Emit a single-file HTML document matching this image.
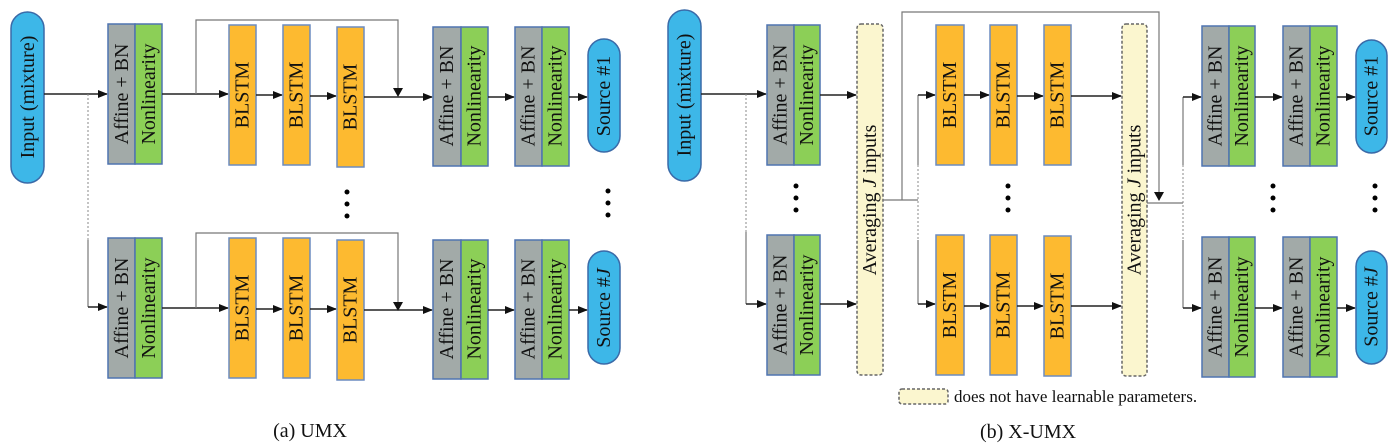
<!DOCTYPE html>
<html><head><meta charset="utf-8"><style>
html,body{margin:0;padding:0;background:#fff;}
svg{display:block;font-family:'Liberation Serif','DejaVu Serif',serif;}
svg text{font-family:'Liberation Serif','DejaVu Serif',serif;fill:#111;}
.g{fill:#a2aaa8;stroke:#4f74b0;stroke-width:1.5;}
.n{fill:#8ccf57;stroke:#4f74b0;stroke-width:1.5;}
.b{fill:#fdba30;stroke:#6c8cc0;stroke-width:1.5;}
.e{fill:#3db7e8;stroke:#3a6aa8;stroke-width:1.5;}
.a{fill:#fbf6cf;stroke:#666;stroke-width:1.5;stroke-dasharray:3,2;}
.l{stroke:#222;stroke-width:1.4;fill:none;}
.t{stroke:#777;stroke-width:1.2;fill:none;}
.d{stroke:#888;stroke-width:1;fill:none;stroke-dasharray:2,2;}
.lab{font-size:20px;}
</style></head><body>
<svg width="1399" height="444" viewBox="0 0 1399 444" xmlns="http://www.w3.org/2000/svg" font-family="Liberation Serif, DejaVu Serif, serif">
<defs><marker id="ar" markerWidth="10" markerHeight="8" refX="9" refY="4" orient="auto" markerUnits="userSpaceOnUse"><path d="M0,0 L10,4 L0,8 z" fill="#111"/></marker></defs>

<!-- ===== UMX ===== -->
<rect class="e" x="11" y="12" width="33" height="171" rx="16.5"/>
<text class="lab" transform="rotate(-90 28 97)" x="28" y="97" text-anchor="middle" dominant-baseline="central">Input (mixture)</text>
<line class="l" x1="44" y1="94" x2="107" y2="94" marker-end="url(#ar)"/>
<line class="d" x1="88" y1="94" x2="88" y2="240"/>
<polyline class="t" points="88,240 88,307"/>
<line class="l" x1="88" y1="307" x2="107" y2="307" marker-end="url(#ar)"/>

<rect class="g" x="108" y="24" width="27" height="140"/><rect class="n" x="135" y="24" width="27" height="140"/>
<text class="lab" transform="rotate(-90 122 94)" x="122" y="94" text-anchor="middle" dominant-baseline="central">Affine + BN</text>
<text class="lab" transform="rotate(-90 149 94)" x="149" y="94" text-anchor="middle" dominant-baseline="central">Nonlinearity</text>
<line class="l" x1="162" y1="94" x2="228" y2="94" marker-end="url(#ar)"/>
<polyline class="t" points="196,94 196,20 398,20 398,94"/>
<path d="M393,88 L398,97 L403,88 z" fill="#111"/>
<rect class="b" x="229" y="25" width="27" height="140"/><text class="lab" transform="rotate(-90 242.5 95)" x="242.5" y="95" text-anchor="middle" dominant-baseline="central">BLSTM</text>
<line class="l" x1="256" y1="95" x2="282" y2="95" marker-end="url(#ar)"/>
<rect class="b" x="283" y="25" width="27" height="140"/><text class="lab" transform="rotate(-90 296.5 95)" x="296.5" y="95" text-anchor="middle" dominant-baseline="central">BLSTM</text>
<line class="l" x1="310" y1="96" x2="336" y2="96" marker-end="url(#ar)"/>
<rect class="b" x="337" y="27" width="27" height="140"/><text class="lab" transform="rotate(-90 350.5 97)" x="350.5" y="97" text-anchor="middle" dominant-baseline="central">BLSTM</text>
<line class="l" x1="364" y1="97" x2="432" y2="97" marker-end="url(#ar)"/>
<rect class="g" x="433" y="27" width="28" height="139"/><rect class="n" x="461" y="27" width="27" height="139"/>
<text class="lab" transform="rotate(-90 447 96)" x="447" y="96" text-anchor="middle" dominant-baseline="central">Affine + BN</text>
<text class="lab" transform="rotate(-90 474.5 96)" x="474.5" y="96" text-anchor="middle" dominant-baseline="central">Nonlinearity</text>
<line class="l" x1="488" y1="97" x2="514" y2="97" marker-end="url(#ar)"/>
<rect class="g" x="515" y="27" width="27" height="139"/><rect class="n" x="542" y="27" width="27" height="139"/>
<text class="lab" transform="rotate(-90 528.5 96)" x="528.5" y="96" text-anchor="middle" dominant-baseline="central">Affine + BN</text>
<text class="lab" transform="rotate(-90 555.5 96)" x="555.5" y="96" text-anchor="middle" dominant-baseline="central">Nonlinearity</text>
<line class="l" x1="569" y1="97" x2="587" y2="97" marker-end="url(#ar)"/>
<rect class="e" x="588" y="39" width="32" height="113" rx="16"/>
<text class="lab" transform="rotate(-90 604 96)" x="604" y="96" text-anchor="middle" dominant-baseline="central">Source #1</text>

<circle cx="347" cy="192" r="2.5" fill="#000"/><circle cx="347" cy="204" r="2.5" fill="#000"/><circle cx="347" cy="216" r="2.5" fill="#000"/>
<circle cx="608" cy="191" r="2.5" fill="#000"/><circle cx="608" cy="203" r="2.5" fill="#000"/><circle cx="608" cy="215" r="2.5" fill="#000"/>

<rect class="g" x="108" y="238" width="27" height="140"/><rect class="n" x="135" y="238" width="27" height="140"/>
<text class="lab" transform="rotate(-90 122 308)" x="122" y="308" text-anchor="middle" dominant-baseline="central">Affine + BN</text>
<text class="lab" transform="rotate(-90 149 308)" x="149" y="308" text-anchor="middle" dominant-baseline="central">Nonlinearity</text>
<line class="l" x1="162" y1="308" x2="228" y2="308" marker-end="url(#ar)"/>
<polyline class="t" points="196,308 196,233 398,233 398,308"/>
<path d="M393,302 L398,311 L403,302 z" fill="#111"/>
<rect class="b" x="229" y="238" width="27" height="140"/><text class="lab" transform="rotate(-90 242.5 308)" x="242.5" y="308" text-anchor="middle" dominant-baseline="central">BLSTM</text>
<line class="l" x1="256" y1="309" x2="282" y2="309" marker-end="url(#ar)"/>
<rect class="b" x="283" y="238" width="27" height="140"/><text class="lab" transform="rotate(-90 296.5 308)" x="296.5" y="308" text-anchor="middle" dominant-baseline="central">BLSTM</text>
<line class="l" x1="310" y1="309" x2="336" y2="309" marker-end="url(#ar)"/>
<rect class="b" x="337" y="240" width="27" height="140"/><text class="lab" transform="rotate(-90 350.5 310)" x="350.5" y="310" text-anchor="middle" dominant-baseline="central">BLSTM</text>
<line class="l" x1="364" y1="310" x2="432" y2="310" marker-end="url(#ar)"/>
<rect class="g" x="433" y="240" width="28" height="139"/><rect class="n" x="461" y="240" width="27" height="139"/>
<text class="lab" transform="rotate(-90 447 309)" x="447" y="309" text-anchor="middle" dominant-baseline="central">Affine + BN</text>
<text class="lab" transform="rotate(-90 474.5 309)" x="474.5" y="309" text-anchor="middle" dominant-baseline="central">Nonlinearity</text>
<line class="l" x1="488" y1="310" x2="514" y2="310" marker-end="url(#ar)"/>
<rect class="g" x="515" y="240" width="27" height="139"/><rect class="n" x="542" y="240" width="27" height="139"/>
<text class="lab" transform="rotate(-90 528.5 309)" x="528.5" y="309" text-anchor="middle" dominant-baseline="central">Affine + BN</text>
<text class="lab" transform="rotate(-90 555.5 309)" x="555.5" y="309" text-anchor="middle" dominant-baseline="central">Nonlinearity</text>
<line class="l" x1="569" y1="310" x2="587" y2="310" marker-end="url(#ar)"/>
<rect class="e" x="588" y="251" width="32" height="113" rx="16"/>
<text class="lab" transform="rotate(-90 604 308)" x="604" y="308" text-anchor="middle" dominant-baseline="central">Source #<tspan font-style="italic">J</tspan></text>

<text x="310" y="437" font-size="20" text-anchor="middle">(a) UMX</text>

<!-- ===== X-UMX ===== -->
<rect class="e" x="668" y="10" width="33" height="171" rx="16.5"/>
<text class="lab" transform="rotate(-90 684.5 95)" x="684.5" y="95" text-anchor="middle" dominant-baseline="central">Input (mixture)</text>
<line class="l" x1="701" y1="94" x2="766" y2="94" marker-end="url(#ar)"/>
<line class="d" x1="746" y1="94" x2="746" y2="232"/>
<polyline class="t" points="746,232 746,304"/>
<line class="l" x1="746" y1="304" x2="766" y2="304" marker-end="url(#ar)"/>

<rect class="g" x="767" y="25" width="27" height="140"/><rect class="n" x="794" y="25" width="26" height="140"/>
<text class="lab" transform="rotate(-90 780.5 95)" x="780.5" y="95" text-anchor="middle" dominant-baseline="central">Affine + BN</text>
<text class="lab" transform="rotate(-90 807 95)" x="807" y="95" text-anchor="middle" dominant-baseline="central">Nonlinearity</text>
<line class="l" x1="820" y1="95" x2="856" y2="95" marker-end="url(#ar)"/>
<rect class="g" x="767" y="235" width="27" height="140"/><rect class="n" x="794" y="235" width="26" height="140"/>
<text class="lab" transform="rotate(-90 780.5 305)" x="780.5" y="305" text-anchor="middle" dominant-baseline="central">Affine + BN</text>
<text class="lab" transform="rotate(-90 807 305)" x="807" y="305" text-anchor="middle" dominant-baseline="central">Nonlinearity</text>
<line class="l" x1="820" y1="304" x2="856" y2="304" marker-end="url(#ar)"/>
<circle cx="796" cy="186" r="2.5" fill="#000"/><circle cx="796" cy="198" r="2.5" fill="#000"/><circle cx="796" cy="210" r="2.5" fill="#000"/>

<rect class="a" x="857" y="24" width="26" height="351" rx="4"/>
<text class="lab" transform="rotate(-90 870 200)" x="870" y="200" text-anchor="middle" dominant-baseline="central">Averaging <tspan font-style="italic">J</tspan> inputs</text>

<polyline class="t" points="883,200 918,200"/>
<polyline class="t" points="902,200 902,12 1159,12 1159,198"/>
<path d="M1154,192 L1159,201 L1164,192 z" fill="#111"/>
<line class="d" x1="918" y1="165" x2="918" y2="240"/>
<polyline class="t" points="918,95 918,165"/>
<polyline class="t" points="918,240 918,304"/>
<line class="l" x1="918" y1="95" x2="935" y2="95" marker-end="url(#ar)"/>
<line class="l" x1="918" y1="304" x2="935" y2="304" marker-end="url(#ar)"/>

<rect class="b" x="936" y="25" width="28" height="140"/><text class="lab" transform="rotate(-90 950 95)" x="950" y="95" text-anchor="middle" dominant-baseline="central">BLSTM</text>
<line class="l" x1="964" y1="95" x2="989" y2="95" marker-end="url(#ar)"/>
<rect class="b" x="990" y="25" width="27" height="140"/><text class="lab" transform="rotate(-90 1003.5 95)" x="1003.5" y="95" text-anchor="middle" dominant-baseline="central">BLSTM</text>
<line class="l" x1="1017" y1="96" x2="1043" y2="96" marker-end="url(#ar)"/>
<rect class="b" x="1044" y="25" width="27" height="140"/><text class="lab" transform="rotate(-90 1057.5 95)" x="1057.5" y="95" text-anchor="middle" dominant-baseline="central">BLSTM</text>
<line class="l" x1="1071" y1="96" x2="1121" y2="96" marker-end="url(#ar)"/>
<circle cx="1008" cy="186" r="2.5" fill="#000"/><circle cx="1008" cy="198" r="2.5" fill="#000"/><circle cx="1008" cy="210" r="2.5" fill="#000"/>

<rect class="b" x="936" y="235" width="28" height="140"/><text class="lab" transform="rotate(-90 950 305)" x="950" y="305" text-anchor="middle" dominant-baseline="central">BLSTM</text>
<line class="l" x1="964" y1="306" x2="989" y2="306" marker-end="url(#ar)"/>
<rect class="b" x="990" y="235" width="27" height="140"/><text class="lab" transform="rotate(-90 1003.5 305)" x="1003.5" y="305" text-anchor="middle" dominant-baseline="central">BLSTM</text>
<line class="l" x1="1017" y1="306" x2="1043" y2="306" marker-end="url(#ar)"/>
<rect class="b" x="1044" y="236" width="27" height="140"/><text class="lab" transform="rotate(-90 1057.5 306)" x="1057.5" y="306" text-anchor="middle" dominant-baseline="central">BLSTM</text>
<line class="l" x1="1071" y1="306" x2="1121" y2="306" marker-end="url(#ar)"/>

<rect class="a" x="1122" y="24" width="25" height="352" rx="4"/>
<text class="lab" transform="rotate(-90 1134.5 200)" x="1134.5" y="200" text-anchor="middle" dominant-baseline="central">Averaging <tspan font-style="italic">J</tspan> inputs</text>

<polyline class="t" points="1147,203 1183,203"/>
<line class="d" x1="1183" y1="165" x2="1183" y2="240"/>
<polyline class="t" points="1183,97 1183,165"/>
<polyline class="t" points="1183,240 1183,308"/>
<line class="l" x1="1183" y1="97" x2="1201" y2="97" marker-end="url(#ar)"/>
<line class="l" x1="1183" y1="308" x2="1201" y2="308" marker-end="url(#ar)"/>

<rect class="g" x="1202" y="26" width="27" height="140"/><rect class="n" x="1229" y="26" width="26" height="140"/>
<text class="lab" transform="rotate(-90 1215.5 96)" x="1215.5" y="96" text-anchor="middle" dominant-baseline="central">Affine + BN</text>
<text class="lab" transform="rotate(-90 1242 96)" x="1242" y="96" text-anchor="middle" dominant-baseline="central">Nonlinearity</text>
<line class="l" x1="1255" y1="97" x2="1282" y2="97" marker-end="url(#ar)"/>
<rect class="g" x="1283" y="26" width="27" height="140"/><rect class="n" x="1310" y="26" width="27" height="140"/>
<text class="lab" transform="rotate(-90 1296.5 96)" x="1296.5" y="96" text-anchor="middle" dominant-baseline="central">Affine + BN</text>
<text class="lab" transform="rotate(-90 1323.5 96)" x="1323.5" y="96" text-anchor="middle" dominant-baseline="central">Nonlinearity</text>
<line class="l" x1="1337" y1="97" x2="1355" y2="97" marker-end="url(#ar)"/>
<rect class="e" x="1356" y="40" width="31" height="113" rx="15.5"/>
<text class="lab" transform="rotate(-90 1371.5 96)" x="1371.5" y="96" text-anchor="middle" dominant-baseline="central">Source #1</text>

<circle cx="1273" cy="186" r="2.5" fill="#000"/><circle cx="1273" cy="198" r="2.5" fill="#000"/><circle cx="1273" cy="210" r="2.5" fill="#000"/>
<circle cx="1375" cy="186" r="2.5" fill="#000"/><circle cx="1375" cy="198" r="2.5" fill="#000"/><circle cx="1375" cy="210" r="2.5" fill="#000"/>

<rect class="g" x="1202" y="237" width="27" height="140"/><rect class="n" x="1229" y="237" width="26" height="140"/>
<text class="lab" transform="rotate(-90 1215.5 307)" x="1215.5" y="307" text-anchor="middle" dominant-baseline="central">Affine + BN</text>
<text class="lab" transform="rotate(-90 1242 307)" x="1242" y="307" text-anchor="middle" dominant-baseline="central">Nonlinearity</text>
<line class="l" x1="1255" y1="308" x2="1282" y2="308" marker-end="url(#ar)"/>
<rect class="g" x="1283" y="237" width="27" height="140"/><rect class="n" x="1310" y="237" width="27" height="140"/>
<text class="lab" transform="rotate(-90 1296.5 307)" x="1296.5" y="307" text-anchor="middle" dominant-baseline="central">Affine + BN</text>
<text class="lab" transform="rotate(-90 1323.5 307)" x="1323.5" y="307" text-anchor="middle" dominant-baseline="central">Nonlinearity</text>
<line class="l" x1="1337" y1="308" x2="1355" y2="308" marker-end="url(#ar)"/>
<rect class="e" x="1356" y="251" width="31" height="113" rx="15.5"/>
<text class="lab" transform="rotate(-90 1371.5 307)" x="1371.5" y="307" text-anchor="middle" dominant-baseline="central">Source #<tspan font-style="italic">J</tspan></text>

<rect class="a" x="899" y="389" width="49" height="15" rx="3"/>
<text x="954" y="402" font-size="17">does not have learnable parameters.</text>
<text x="1028" y="438" font-size="20" text-anchor="middle">(b) X-UMX</text>
</svg>
</body></html>
